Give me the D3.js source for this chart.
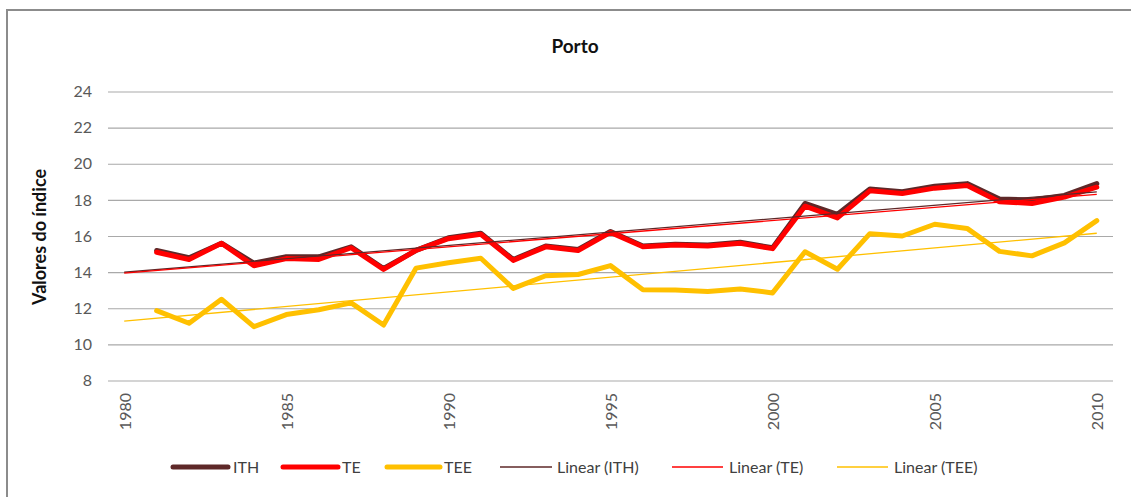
<!DOCTYPE html>
<html>
<head>
<meta charset="utf-8">
<script src="https://cdn.jsdelivr.net/npm/d3@7"></script>
<style>
  html, body { margin: 0; padding: 0; background: #fff; }
  svg { display: block; font-family: Lato, "Liberation Sans", sans-serif; }
</style>
</head>
<body>
<svg id="chart" width="1131" height="497"></svg>
<script>
// ---- data ----
const years = d3.range(1980, 2011);            // categories on the axis
const dataYears = d3.range(1981, 2011);        // years with values
const ITH = [15.2,14.8,15.6,14.5,14.85,14.85,15.4,14.2,15.2,15.9,16.15,14.7,15.45,15.25,16.25,15.45,15.55,15.5,15.65,15.35,17.8,17.2,18.6,18.45,18.75,18.9,18.05,18.0,18.25,18.9];
const TE  = [15.1,14.7,15.6,14.35,14.75,14.7,15.35,14.15,15.2,15.85,16.1,14.65,15.4,15.2,16.2,15.4,15.5,15.45,15.6,15.3,17.65,17.0,18.5,18.35,18.65,18.8,17.9,17.8,18.15,18.7];
const TEE = [11.87,11.17,12.5,10.98,11.65,11.92,12.3,11.07,14.22,14.52,14.77,13.1,13.8,13.87,14.36,13.03,13.01,12.93,13.07,12.85,15.13,14.16,16.13,16.0,16.65,16.42,15.15,14.9,15.62,16.85];
const yTicks = [8,10,12,14,16,18,20,22,24];
const xTickLabels = [1980,1985,1990,1995,2000,2005,2010];

const seriesDefs = [
  {name: "ITH", values: ITH, color: "#5e2828"},
  {name: "TE",  values: TE,  color: "#ff0000"},
  {name: "TEE", values: TEE, color: "#ffc000"}
];

// ---- layout ----
const svg = d3.select("#chart");
const plot = {left: 108, right: 1113, top: 91.5, bottom: 380.5};

const x = d3.scaleBand().domain(years).range([plot.left, plot.right]);
const xc = yr => x(yr) + x.bandwidth() / 2;
const y = d3.scaleLinear().domain([8, 24]).range([plot.bottom, plot.top]);

// outer chart border
svg.append("rect").attr("x", 7).attr("y", 10).attr("width", 1140).attr("height", 500)
  .attr("fill", "none").attr("stroke", "#8c8c8c").attr("stroke-width", 2);

// title
svg.append("text").attr("x", 575).attr("y", 53).attr("text-anchor", "middle")
  .attr("font-size", 19).attr("font-weight", "bold").attr("fill", "#111").text("Porto");

// gridlines
const yAxis = d3.axisLeft(y).tickValues(yTicks).tickSize(-(plot.right - plot.left)).tickPadding(16);
const gy = svg.append("g").attr("transform", `translate(${plot.left},0)`).call(yAxis);
gy.select(".domain").remove();
gy.selectAll(".tick line").attr("stroke", "#a9a9a9").attr("stroke-width", 1.2);
gy.selectAll(".tick text").attr("font-size", 16).attr("fill", "#595959")
  .attr("font-family", "Lato, 'Liberation Sans', sans-serif");

// x axis labels (rotated)
const gx = svg.append("g");
gx.selectAll("text").data(xTickLabels).join("text")
  .attr("transform", d => `translate(${xc(d) + 1},393) rotate(-90)`)
  .attr("text-anchor", "end").attr("dy", "0.35em")
  .attr("font-size", 16).attr("fill", "#595959").text(d => d);

// y axis title
svg.append("text").attr("transform", "translate(40,237) rotate(-90)")
  .attr("text-anchor", "middle").attr("dy", "0.35em")
  .attr("font-size", 18).attr("font-weight", "bold").attr("fill", "#111").text("Valores do índice");

// data lines
const line = d3.line().x(d => xc(d[0])).y(d => y(d[1]));
seriesDefs.forEach(s => {
  svg.append("path").datum(dataYears.map((yr, i) => [yr, s.values[i]]))
    .attr("d", line).attr("fill", "none").attr("stroke", s.color)
    .attr("stroke-width", 5).attr("stroke-linejoin", "round").attr("stroke-linecap", "round");
});

// linear trendlines (least squares on the data), drawn from 1980 to 2010
function fit(vals) {
  const mx = d3.mean(dataYears), my = d3.mean(vals);
  let num = 0, den = 0;
  dataYears.forEach((yr, i) => { num += (yr - mx) * (vals[i] - my); den += (yr - mx) * (yr - mx); });
  const b = num / den;
  return yr => my + b * (yr - mx);
}
seriesDefs.forEach(s => {
  const f = fit(s.values);
  svg.append("path").datum([[1980, f(1980)], [2010, f(2010)]])
    .attr("d", line).attr("fill", "none").attr("stroke", s.color).attr("stroke-width", 1.3);
});

// legend
const legendItems = [
  {label: "ITH", color: "#5e2828", w: 5, x0: 173, x1: 228, tx: 233},
  {label: "TE", color: "#ff0000", w: 5, x0: 283, x1: 338, tx: 342},
  {label: "TEE", color: "#ffc000", w: 5, x0: 387, x1: 440, tx: 444},
  {label: "Linear (ITH)", color: "#5e2828", w: 1.3, x0: 500, x1: 552, tx: 557},
  {label: "Linear (TE)", color: "#ff0000", w: 1.3, x0: 672, x1: 723, tx: 729},
  {label: "Linear (TEE)", color: "#ffc000", w: 1.3, x0: 837, x1: 888, tx: 894}
];
const lg = svg.append("g");
legendItems.forEach(it => {
  lg.append("line").attr("x1", it.x0).attr("x2", it.x1).attr("y1", 467).attr("y2", 467)
    .attr("stroke", it.color).attr("stroke-width", it.w).attr("stroke-linecap", it.w > 2 ? "round" : "butt");
  lg.append("text").attr("x", it.tx).attr("y", 467).attr("dy", "0.35em")
    .attr("font-size", 16).attr("fill", "#404040").text(it.label);
});
</script>
</body>
</html>
